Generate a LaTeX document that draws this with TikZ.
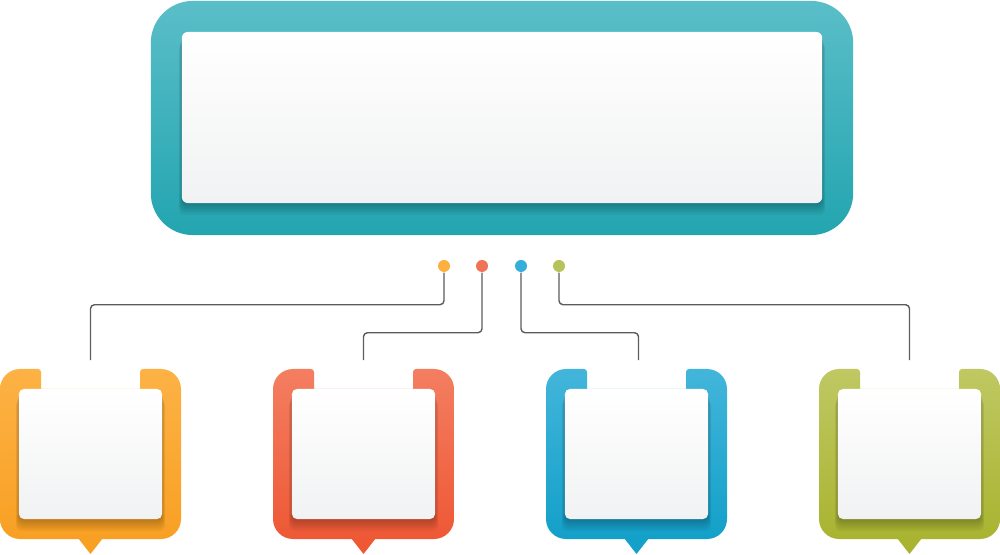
\documentclass[tikz,border=0pt]{standalone}
\usetikzlibrary{calc}
\definecolor{tealT}{HTML}{5ABEC8}\definecolor{tealB}{HTML}{23A5B0}
\definecolor{orgT}{HTML}{FDB245}\definecolor{orgB}{HTML}{F8A024}
\definecolor{redT}{HTML}{F47E61}\definecolor{redB}{HTML}{EE5835}
\definecolor{bluT}{HTML}{43B5DA}\definecolor{bluB}{HTML}{13A0C9}
\definecolor{grnT}{HTML}{BFC862}\definecolor{grnB}{HTML}{A9B431}
\definecolor{dotO}{HTML}{FBB040}\definecolor{dotR}{HTML}{F07358}
\definecolor{dotB}{HTML}{35AEDA}\definecolor{dotG}{HTML}{B6C25A}
\definecolor{panelB}{HTML}{F1F2F3}
\definecolor{lineC}{HTML}{5C5C5C}
\tikzset{
  panel/.style={rectangle, rounded corners=0.05cm, inner sep=0pt, top color=white, bottom color=panelB, draw=none},
  dotnode/.style={circle, minimum size=0.12cm, inner sep=0pt, draw=none},
  conn/.style={draw=lineC, line width=0.4pt, rounded corners=0.04cm},
  shadowlayer/.style={fill=black, opacity=0.03, rounded corners=0.06cm},
}
% #1 x0, #2 top colour, #3 bottom colour, #4 panel name
\newcommand{\calloutbox}[4]{%
  \shade[top color=#2, bottom color=#3]
    ({#1+41},389) [rounded corners=0.03cm]-- ({#1+41},369) [rounded corners=0.2cm]-- (#1,369) -- (#1,539) -- ({#1+181},539) -- ({#1+181},369) [rounded corners=0.03cm]-- ({#1+140},369) [sharp corners]-- ({#1+140},389) -- cycle;
  \fill[#3] ({#1+78},538) -- ({#1+103},538) -- ({#1+90.5},554) -- cycle;
  \foreach \i in {1,...,8}{
    \fill[shadowlayer] ({#1+19-0.4*\i},{389+1.5*\i}) rectangle ({#1+162+0.4*\i},{519+1.5*\i});
  }
  \node[panel, minimum width=1.43cm, minimum height=1.30cm] (#4) at ({#1+90.5},454) {};
}
\begin{document}
\begin{tikzpicture}[x=0.01cm,y=-0.01cm]
\useasboundingbox (0,0) rectangle (1000,555);
% main box
\node[rectangle, rounded corners=0.42cm, minimum width=7.02cm, minimum height=2.34cm, inner sep=0pt, top color=tealT, bottom color=tealB] (main) at (502,118) {};
\foreach \i in {1,...,8}{
  \fill[shadowlayer] ({182-0.4*\i},{32+1.5*\i}) rectangle ({822+0.4*\i},{203+1.5*\i});
}
\node[panel, minimum width=6.40cm, minimum height=1.71cm, rounded corners=0.06cm] (mainpanel) at (502,117.5) {};
% bottom boxes
\calloutbox{0}{orgT}{orgB}{p1}
\calloutbox{273}{redT}{redB}{p2}
\calloutbox{546}{bluT}{bluB}{p3}
\calloutbox{819}{grnT}{grnB}{p4}
% dots
\node[dotnode, fill=dotO] (d1) at (444,266) {};
\node[dotnode, fill=dotR] (d2) at (482,266) {};
\node[dotnode, fill=dotB] (d3) at (521,266) {};
\node[dotnode, fill=dotG] (d4) at (559,266) {};
% connector ends
\coordinate (e1) at ([yshift=0.28cm]p1.north);
\coordinate (e2) at ([yshift=0.28cm]p2.north);
\coordinate (e3) at ([xshift=0.02cm,yshift=0.28cm]p3.north);
\coordinate (e4) at ([yshift=0.28cm]p4.north);
\draw[conn] (d1.south) -- ++(0,32) -| (e1);
\draw[conn] (d2.south) -- ++(0,60) -| (e2);
\draw[conn] (d3.south) -- ++(0,60) -| (e3);
\draw[conn] (d4.south) -- ++(0,32) -| (e4);
\end{tikzpicture}
\end{document}
